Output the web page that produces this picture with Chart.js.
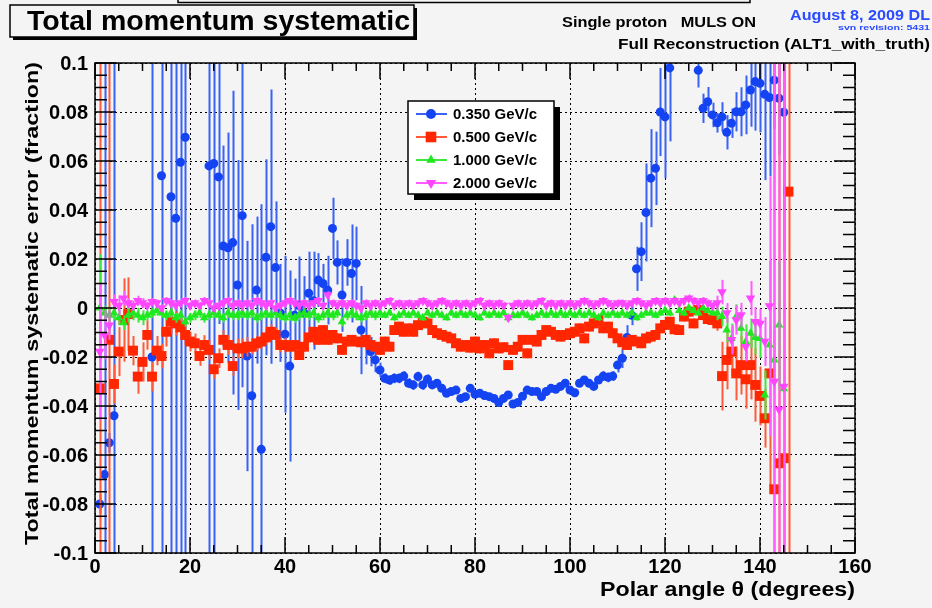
<!DOCTYPE html>
<html>
<head>
<meta charset="utf-8">
<script src="https://cdn.jsdelivr.net/npm/chart.js@4.4.0/dist/chart.umd.min.js"></script>
<style>
  html, body { margin: 0; padding: 0; background: #f4f4f4; }
  canvas { display: block; }
</style>
</head>
<body>
<canvas id="sysChart" width="932" height="608"></canvas>
<script>
// polar angle bins (degrees)
const THETA = [
  1,2,3,4,5,6,7,8,9,10, 11,12,13,14,15,16,17,18,19,20,
  21,22,23,24,25,26,27,28,29,30, 31,32,33,34,35,36,37,38,39,40,
  41,42,43,44,45,46,47,48,49,50, 51,52,53,54,55,56,57,58,59,60,
  61,62,63,64,65,66,67,68,69,70, 71,72,73,74,75,76,77,78,79,80,
  81,82,83,84,85,86,87,88,89,90, 91,92,93,94,95,96,97,98,99,100,
  101,102,103,104,105,106,107,108,109,110, 111,112,113,114,115,116,117,118,119,120,
  121,122,123,124,125,126,127,128,129,130, 131,132,133,134,135,136,137,138,139,140,
  141,142,143,144,145,146
];

const SERIES_LABELS = ['0.350 GeV/c', '0.500 GeV/c', '1.000 GeV/c', '2.000 GeV/c'];

// 0.350 GeV/c
const P350 = [
  -0.080,-0.068,-0.055,-0.044,null,null,null,null,null,null,
  null,-0.020,null,0.054,null,0.0454,0.0366,0.0595,0.0697,null,
  null,null,null,0.058,0.059,0.0535,0.0253,0.0246,0.0267,0.0094,
  0.0377,-0.0196,-0.0358,0.0073,-0.0577,0.0207,0.0332,0.0165,-0.002,-0.0107,
  -0.0237,-0.003,0.001,-0.002,0.006,0.003,0.0114,0.010,0.0073,0.0325,
  0.0186,0.0053,0.0186,0.0141,0.0182,-0.009,-0.013,-0.0178,-0.0212,-0.0253,
  -0.0287,-0.0294,-0.0287,-0.0287,-0.0278,-0.0307,-0.0314,-0.028,-0.0314,-0.0291,
  -0.0314,-0.0307,-0.0328,-0.0348,-0.0341,-0.0335,-0.0369,-0.0362,-0.0328,-0.0352,
  -0.0348,-0.0357,-0.0362,-0.0369,-0.0386,-0.0369,-0.0355,-0.0392,-0.0386,-0.036,
  -0.0335,-0.0341,-0.0341,-0.0362,-0.0341,-0.0328,-0.0332,-0.032,-0.0307,-0.0335,
  -0.0346,-0.0307,-0.0294,-0.0307,-0.032,-0.0294,-0.0278,-0.0283,-0.0278,-0.0233,
  -0.0205,-0.012,-0.003,0.016,0.023,0.039,0.053,0.057,0.080,0.078,
  0.098,null,null,null,null,null,0.097,0.0815,0.0842,0.0788,
  0.0756,0.078,0.0717,0.0754,0.0801,0.0801,0.0829,0.089,0.0924,0.0917,
  0.0872,0.0859,0.093,0.0856,0.0799,null
];
const P350_ERR = [
  0.004,0.25,0.004,0.25,null,null,null,null,null,null,
  null,0.25,null,0.2,null,0.2,0.2,0.2,0.2,null,
  null,null,null,0.2,0.2,0.06,0.041,0.047,0.062,0.051,
  0.07,0.047,0.07,0.03,0.1,0.04,0.056,0.027,0.02,0.032,
  0.039,0.015,0.02,0.015,0.017,0.02,0.011,0.008,0.014,0.0125,
  0.009,0.015,0.0095,0.02,0.015,0.018,0.01,0.006,0.005,0.003,
  0.002,0.002,0.002,0.002,0.002,0.002,0.002,0.002,0.002,0.002,
  0.0015,0.0015,0.0015,0.0015,0.0015,0.0015,0.0015,0.0015,0.0015,0.0015,
  0.0015,0.0015,0.0015,0.0015,0.0015,0.0015,0.0015,0.0015,0.0015,0.0015,
  0.0015,0.0015,0.0015,0.0015,0.0015,0.0015,0.0015,0.0015,0.0015,0.0015,
  0.0015,0.0015,0.0015,0.0015,0.0015,0.0015,0.002,0.002,0.002,0.003,
  0.004,0.005,0.004,0.009,0.012,0.02,0.02,0.015,0.018,0.025,
  0.03,null,null,null,null,null,0.007,0.006,0.006,0.005,
  0.004,0.006,0.007,0.006,0.008,0.01,0.012,0.015,0.02,0.02,
  0.035,0.032,0.02,0.023,0.057,null
];

// 0.500 GeV/c
const P500 = [
  -0.0328,null,-0.013,-0.031,-0.0178,-0.0049,-0.0025,-0.0174,-0.028,-0.022,
  -0.011,-0.028,-0.0174,-0.0196,-0.0097,-0.0056,-0.0063,-0.0079,-0.011,-0.0137,
  -0.0144,-0.0196,-0.0151,-0.0171,-0.025,-0.0205,-0.013,-0.0151,-0.0237,-0.0165,
  -0.0165,-0.0158,-0.0158,-0.0144,-0.0137,-0.012,-0.0097,-0.011,-0.0151,-0.0151,
  -0.0158,-0.0151,-0.0192,-0.0158,-0.012,-0.0097,-0.013,-0.009,-0.013,-0.011,
  -0.0124,-0.0171,-0.0137,-0.013,-0.0137,-0.014,-0.013,-0.0151,-0.0158,-0.0171,
  -0.0137,-0.0158,-0.009,-0.0076,-0.0097,-0.0083,-0.0097,-0.007,-0.0056,-0.0063,
  -0.009,-0.0103,-0.011,-0.0117,-0.0124,-0.0144,-0.0158,-0.0151,-0.0162,-0.0137,
  -0.0165,-0.0151,-0.0185,-0.0144,-0.0165,-0.016,-0.0233,-0.0171,-0.0158,-0.013,
  -0.0185,-0.013,-0.0137,-0.011,-0.009,-0.0097,-0.011,-0.0117,-0.011,-0.0103,
  -0.0097,-0.0083,-0.0124,-0.0076,-0.0063,-0.0049,-0.0083,-0.0076,-0.0103,-0.0124,
  -0.014,-0.0151,-0.013,-0.0137,-0.0144,-0.0124,-0.0117,-0.011,-0.0083,-0.0069,
  -0.0056,-0.0087,-0.009,-0.0035,-0.0015,-0.0063,-0.0008,-0.0029,-0.0045,-0.0049,
  -0.0063,-0.0278,-0.0212,-0.0178,-0.0267,-0.0233,-0.0291,-0.0233,-0.0314,-0.0359,
  -0.045,-0.0267,-0.074,-0.0634,-0.0613,0.0475
];
const P500_ERR = [
  0.25,null,0.25,0.008,0.01,0.017,0.015,0.006,0.007,0.008,
  0.006,0.006,0.006,0.005,0.006,0.005,0.005,0.005,0.004,0.004,
  0.004,0.004,0.004,0.004,0.004,0.004,0.004,0.004,0.004,0.004,
  0.004,0.004,0.003,0.003,0.003,0.003,0.003,0.003,0.003,0.003,
  0.002,0.002,0.002,0.002,0.002,0.002,0.002,0.002,0.002,0.002,
  0.002,0.002,0.002,0.002,0.002,0.002,0.002,0.002,0.002,0.002,
  0.002,0.002,0.002,0.002,0.002,0.002,0.002,0.002,0.002,0.002,
  0.002,0.002,0.002,0.002,0.002,0.002,0.002,0.002,0.002,0.002,
  0.002,0.002,0.002,0.002,0.002,0.002,0.002,0.002,0.002,0.002,
  0.002,0.002,0.002,0.002,0.002,0.002,0.002,0.002,0.002,0.002,
  0.002,0.002,0.002,0.002,0.002,0.002,0.002,0.002,0.002,0.002,
  0.002,0.002,0.002,0.002,0.002,0.002,0.002,0.002,0.002,0.002,
  0.002,0.002,0.002,0.002,0.002,0.002,0.002,0.002,0.002,0.002,
  0.003,0.014,0.012,0.01,0.011,0.012,0.012,0.014,0.015,0.012,
  0.012,0.046,0.2,0.2,0.2,0.2
];

// 1.000 GeV/c
const P1000 = [
  0.000,-0.002,-0.003,-0.002,-0.004,-0.006,-0.003,-0.002,-0.003,-0.004,
  -0.003,-0.002,-0.001,-0.002,-0.003,-0.002,-0.004,-0.003,-0.0056,-0.004,
  -0.003,-0.002,-0.004,-0.003,-0.002,-0.003,-0.004,-0.002,-0.003,-0.003,
  -0.002,-0.003,-0.002,-0.004,-0.003,-0.002,-0.003,-0.002,-0.003,-0.004,
  -0.003,-0.0042,-0.003,-0.002,-0.003,-0.002,-0.004,-0.003,-0.002,-0.003,
  -0.002,-0.0056,-0.003,-0.002,-0.003,-0.004,-0.003,-0.002,-0.003,-0.002,
  -0.003,-0.002,-0.004,-0.003,-0.002,-0.003,-0.002,-0.003,-0.004,-0.002,
  -0.003,-0.002,-0.003,-0.004,-0.002,-0.003,-0.002,-0.003,-0.002,-0.003,
  -0.004,-0.002,-0.003,-0.002,-0.003,-0.002,-0.004,-0.003,-0.003,-0.002,
  -0.003,-0.004,-0.003,-0.002,-0.003,-0.002,-0.003,-0.002,-0.003,-0.002,
  -0.003,-0.002,-0.003,-0.002,-0.003,-0.004,-0.002,-0.003,-0.002,-0.003,
  -0.002,-0.003,-0.002,-0.004,-0.003,-0.002,-0.002,-0.003,-0.002,-0.001,
  -0.002,0.0033,-0.001,-0.002,0.000,-0.001,-0.002,0.000,-0.001,-0.002,
  -0.002,-0.0035,-0.009,-0.0124,-0.0035,-0.0083,-0.0137,-0.0103,-0.012,-0.0124,
  -0.0355,-0.0151,-0.0212,-0.0069,-0.033,null
];
const P1000_ERR = [
  0.022,0.003,0.003,0.003,0.003,0.003,0.003,0.003,0.003,0.003,
  0.002,0.002,0.002,0.002,0.002,0.002,0.002,0.002,0.002,0.002,
  0.002,0.002,0.002,0.002,0.002,0.002,0.002,0.002,0.002,0.002,
  0.002,0.002,0.002,0.002,0.002,0.002,0.002,0.002,0.002,0.002,
  0.002,0.002,0.002,0.002,0.002,0.002,0.002,0.002,0.002,0.002,
  0.002,0.002,0.002,0.002,0.002,0.002,0.002,0.002,0.002,0.002,
  0.0012,0.0012,0.0012,0.0012,0.0012,0.0012,0.0012,0.0012,0.0012,0.0012,
  0.0012,0.0012,0.0012,0.0012,0.0012,0.0012,0.0012,0.0012,0.0012,0.0012,
  0.0012,0.0012,0.0012,0.0012,0.0012,0.0012,0.0012,0.0012,0.0012,0.0012,
  0.0012,0.0012,0.0012,0.0012,0.0012,0.0012,0.0012,0.0012,0.0012,0.0012,
  0.0012,0.0012,0.0012,0.0012,0.0012,0.0012,0.0012,0.0012,0.0012,0.0012,
  0.0012,0.0012,0.0012,0.0012,0.0012,0.0012,0.0012,0.0012,0.0012,0.0012,
  0.0012,0.0012,0.0012,0.0012,0.0012,0.0012,0.0012,0.0012,0.0012,0.0012,
  0.003,0.004,0.005,0.006,0.005,0.006,0.007,0.006,0.007,0.008,
  0.01,0.008,0.012,0.026,0.07,null
];

// 2.000 GeV/c
const P2000 = [
  -0.0178,-0.011,-0.007,0.0026,0.001,0.004,0.002,0.001,0.003,0.002,
  0.001,0.0026,0.002,0.000,0.003,0.002,0.001,0.002,0.003,0.001,
  0.002,0.001,0.003,0.002,0.000,0.001,0.002,0.003,0.001,0.002,
  0.001,0.002,0.001,0.003,0.002,0.001,0.002,0.000,0.001,0.002,
  0.003,0.002,0.001,0.002,0.001,0.002,0.003,0.001,0.0053,0.002,
  0.001,0.002,0.001,0.002,0.001,0.000,0.002,0.001,0.002,0.001,
  0.002,0.003,0.001,0.002,0.001,0.002,0.001,0.002,0.003,0.002,
  0.001,0.002,0.003,0.002,0.001,0.002,0.001,0.002,0.001,0.002,
  0.003,0.001,0.002,0.001,0.002,0.001,-0.004,0.001,0.002,0.001,
  0.002,0.001,0.002,0.003,0.001,0.002,0.001,0.002,0.001,0.002,
  0.001,0.002,0.003,0.002,0.001,0.002,0.003,0.002,0.001,0.002,
  0.002,0.001,0.002,0.003,0.002,0.001,0.002,0.003,0.002,0.003,
  0.002,0.003,0.002,0.003,0.004,0.003,0.002,0.003,0.002,0.001,
  0.002,0.0065,-0.002,-0.013,-0.0049,-0.0029,-0.0158,0.004,-0.0056,-0.0063,
  -0.0137,0.0008,-0.030,-0.0414,-0.032,null
];
const P2000_ERR = [
  0.028,0.01,0.006,0.003,0.004,0.003,0.002,0.002,0.002,0.002,
  0.0015,0.0015,0.0015,0.0015,0.0015,0.0015,0.0015,0.0015,0.0015,0.0015,
  0.0015,0.0015,0.0015,0.0015,0.0015,0.0015,0.0015,0.0015,0.0015,0.0015,
  0.0015,0.0015,0.0015,0.0015,0.0015,0.0015,0.0015,0.0015,0.0015,0.0015,
  0.0015,0.0015,0.0015,0.0015,0.0015,0.0015,0.0015,0.0015,0.0015,0.0015,
  0.0015,0.0015,0.0015,0.0015,0.0015,0.0015,0.0015,0.0015,0.0015,0.0015,
  0.0015,0.0015,0.0015,0.0015,0.0015,0.0015,0.0015,0.0015,0.0015,0.0015,
  0.0015,0.0015,0.0015,0.0015,0.0015,0.0015,0.0015,0.0015,0.0015,0.0015,
  0.0015,0.0015,0.0015,0.0015,0.0015,0.0015,0.0015,0.0015,0.0015,0.0015,
  0.0015,0.0015,0.0015,0.0015,0.0015,0.0015,0.0015,0.0015,0.0015,0.0015,
  0.0015,0.0015,0.0015,0.0015,0.0015,0.0015,0.0015,0.0015,0.0015,0.0015,
  0.0015,0.0015,0.0015,0.0015,0.0015,0.0015,0.0015,0.0015,0.0015,0.0015,
  0.0015,0.0015,0.0015,0.0015,0.0015,0.0015,0.0015,0.0015,0.0015,0.0015,
  0.003,0.005,0.004,0.006,0.006,0.005,0.006,0.007,0.006,0.006,
  0.01,0.053,0.2,0.2,0.2,null
];

const X_TICKS = [0, 20, 40, 60, 80, 100, 120, 140, 160];
const X_TICK_LABELS = ['0', '20', '40', '60', '80', '100', '120', '140', '160'];
const Y_TICKS = [0.1, 0.08, 0.06, 0.04, 0.02, 0, -0.02, -0.04, -0.06, -0.08, -0.1];
const Y_TICK_LABELS = ['0.1', '0.08', '0.06', '0.04', '0.02', '0', '-0.02', '-0.04', '-0.06', '-0.08', '-0.1'];

const FONT = '"Liberation Sans", Arial, Helvetica, sans-serif';

function pts(vals) {
  return THETA.map((t, i) => ({ x: t, y: vals[i] }));
}

// bold text squeezed to a target width, like the ROOT rendering
function fitText(ctx, text, x, y, size, width, align, color) {
  ctx.save();
  ctx.font = 'bold ' + size + 'px ' + FONT;
  ctx.fillStyle = color || '#000';
  ctx.textBaseline = 'middle';
  ctx.textAlign = align || 'left';
  let sx = 1;
  if (width) sx = width / ctx.measureText(text).width;
  ctx.translate(x, y);
  ctx.scale(sx, 1);
  ctx.fillText(text, 0, 0);
  ctx.restore();
}

function marker(ctx, style, x, y, r, color) {
  ctx.save();
  ctx.fillStyle = color;
  ctx.beginPath();
  if (style === 'circle') {
    ctx.arc(x, y, r, 0, Math.PI * 2);
  } else if (style === 'rect') {
    const s = r * Math.SQRT1_2;
    ctx.rect(x - s, y - s, 2 * s, 2 * s);
  } else {
    const dir = style === 'down' ? -1 : 1;
    const w = r * Math.sqrt(3) / 2;
    ctx.moveTo(x, y - dir * r);
    ctx.lineTo(x + w, y + dir * r / 2);
    ctx.lineTo(x - w, y + dir * r / 2);
    ctx.closePath();
  }
  ctx.fill();
  ctx.restore();
}

const rootLook = {
  id: 'rootLook',
  beforeDraw(chart) {
    const ctx = chart.ctx;
    ctx.save();
    ctx.fillStyle = '#f4f4f4';
    ctx.fillRect(0, 0, chart.width, chart.height);
    ctx.restore();
  },
  beforeDatasetDraw(chart, args) {
    const ds = chart.data.datasets[args.index];
    const a = chart.chartArea;
    const xs = chart.scales.x, ys = chart.scales.y;
    const ctx = chart.ctx;
    ctx.save();
    ctx.beginPath();
    ctx.rect(a.left, a.top, a.right - a.left, a.bottom - a.top);
    ctx.clip();
    ctx.strokeStyle = ds.errColor;
    ctx.lineWidth = 2;
    ds.data.forEach((p, i) => {
      const e = ds.errors[i];
      if (p.y === null || e === null) return;
      const px = Math.round(xs.getPixelForValue(p.x)) + 0.5;
      ctx.beginPath();
      ctx.moveTo(px, ys.getPixelForValue(p.y + e));
      ctx.lineTo(px, ys.getPixelForValue(p.y - e));
      ctx.stroke();
    });
    ctx.restore();
  },
  afterDraw(chart) {
    const ctx = chart.ctx;
    const a = chart.chartArea;
    const xs = chart.scales.x, ys = chart.scales.y;
    ctx.save();

    // frame
    ctx.strokeStyle = '#000';
    ctx.lineWidth = 1.5;
    ctx.strokeRect(a.left, a.top, a.right - a.left, a.bottom - a.top);

    // ticks: y major 0.02 / minor 0.005, x major 20 / minor 5
    ctx.beginPath();
    for (let k = -20; k <= 20; k++) {
      const py = ys.getPixelForValue(k * 0.005);
      const len = (k % 4 === 0) ? 21 : 12;
      ctx.moveTo(a.left, py); ctx.lineTo(a.left + len, py);
      ctx.moveTo(a.right, py); ctx.lineTo(a.right - len, py);
    }
    for (let k = 0; k <= 32; k++) {
      const px = xs.getPixelForValue(k * 5);
      const len = (k % 4 === 0) ? 16 : 8;
      ctx.moveTo(px, a.bottom); ctx.lineTo(px, a.bottom - len);
      ctx.moveTo(px, a.top); ctx.lineTo(px, a.top + len);
    }
    ctx.stroke();

    // tick labels
    Y_TICKS.forEach((v, i) => {
      fitText(ctx, Y_TICK_LABELS[i], 88, ys.getPixelForValue(v) + 1, 20, null, 'right');
    });
    X_TICKS.forEach((v, i) => {
      fitText(ctx, X_TICK_LABELS[i], xs.getPixelForValue(v), 567, 20, null, 'center');
    });

    // axis titles
    fitText(ctx, 'Polar angle \u03b8 (degrees)', 855, 590, 20, 255, 'right');
    ctx.save();
    ctx.translate(33, 62);
    ctx.rotate(-Math.PI / 2);
    fitText(ctx, 'Total momentum systematic error (fraction)', 0, 0, 19, 483, 'right');
    ctx.restore();

    // partial box at the very top
    ctx.lineWidth = 1.5;
    ctx.beginPath();
    ctx.moveTo(178, 0); ctx.lineTo(178, 2.5); ctx.lineTo(750, 2.5); ctx.lineTo(750, 0);
    ctx.stroke();

    // title box with shadow
    ctx.fillStyle = '#000';
    ctx.fillRect(13, 8, 404, 32);
    ctx.fillStyle = '#f4f4f4';
    ctx.fillRect(10, 5, 404, 32);
    ctx.lineWidth = 1.5;
    ctx.strokeRect(10, 5, 404, 32);
    fitText(ctx, 'Total momentum systematic', 27, 22, 28, 383, 'left');

    // header texts
    fitText(ctx, 'Single proton   MULS ON', 562, 23, 14, 194, 'left');
    fitText(ctx, 'August 8, 2009 DL', 930, 16, 15, 140, 'right', '#2b4bff');
    fitText(ctx, 'svn revision: 5431', 930, 28, 8, 92, 'right', '#2b4bff');
    fitText(ctx, 'Full Reconstruction (ALT1_with_truth)', 930, 45, 15, 312, 'right');

    // legend
    const lx = 408, ly = 101, lw = 146, lh = 93;
    ctx.fillStyle = '#000';
    ctx.fillRect(lx + 6, ly + 6, lw, lh);
    ctx.fillStyle = '#fff';
    ctx.fillRect(lx, ly, lw, lh);
    ctx.strokeStyle = '#000';
    ctx.lineWidth = 1.5;
    ctx.strokeRect(lx, ly, lw, lh);
    chart.data.datasets.forEach((ds, i) => {
      const ry = 114 + i * 23;
      ctx.strokeStyle = ds.errColor;
      ctx.lineWidth = 2;
      ctx.beginPath();
      ctx.moveTo(416, ry); ctx.lineTo(447, ry);
      ctx.stroke();
      marker(ctx, ds.legendMarker, 431, ry, ds.pointRadius + 0.5, ds.backgroundColor);
      fitText(ctx, ds.label, 453, ry + 1, 15, 84, 'left');
    });

    ctx.restore();
  }
};

const datasets = [
  { label: SERIES_LABELS[0], data: pts(P350), errors: P350_ERR, order: 4,
    backgroundColor: '#1443f2', borderColor: '#1443f2', errColor: '#3a62f5',
    pointStyle: 'circle', pointRadius: 4.5, legendMarker: 'circle' },
  { label: SERIES_LABELS[1], data: pts(P500), errors: P500_ERR, order: 3,
    backgroundColor: '#ff2600', borderColor: '#ff2600', errColor: '#ff5a3a',
    pointStyle: 'rect', pointRadius: 7, legendMarker: 'rect' },
  { label: SERIES_LABELS[2], data: pts(P1000), errors: P1000_ERR, order: 2,
    backgroundColor: '#1ee81e', borderColor: '#1ee81e', errColor: '#3fe63f',
    pointStyle: 'triangle', pointRadius: 5, legendMarker: 'up' },
  { label: SERIES_LABELS[3], data: pts(P2000), errors: P2000_ERR, order: 1,
    backgroundColor: '#ff45ff', borderColor: '#ff45ff', errColor: '#ff5cff',
    pointStyle: 'triangle', rotation: 180, pointRadius: 5.5, legendMarker: 'down' }
];
datasets.forEach(d => { d.showLine = false; d.pointBorderWidth = 0; d.pointHoverRadius = d.pointRadius; });

new Chart(document.getElementById('sysChart').getContext('2d'), {
  type: 'scatter',
  data: { datasets: datasets },
  options: {
    responsive: false,
    animation: false,
    devicePixelRatio: 1,
    events: [],
    layout: { padding: { top: 63, right: 77, left: 0, bottom: 0 } },
    plugins: { legend: { display: false }, tooltip: { enabled: false } },
    scales: {
      x: {
        type: 'linear', min: 0, max: 160,
        afterFit: s => { s.height = 55; },
        ticks: { display: false, stepSize: 20 },
        grid: { color: '#000', lineWidth: 1, drawTicks: false },
        border: { display: false, dash: [2, 3] }
      },
      y: {
        type: 'linear', min: -0.1, max: 0.1,
        afterFit: s => { s.width = 95; },
        ticks: { display: false, stepSize: 0.02 },
        grid: { color: '#000', lineWidth: 1, drawTicks: false },
        border: { display: false, dash: [2, 3] }
      }
    }
  },
  plugins: [rootLook]
});
</script>
</body>
</html>
